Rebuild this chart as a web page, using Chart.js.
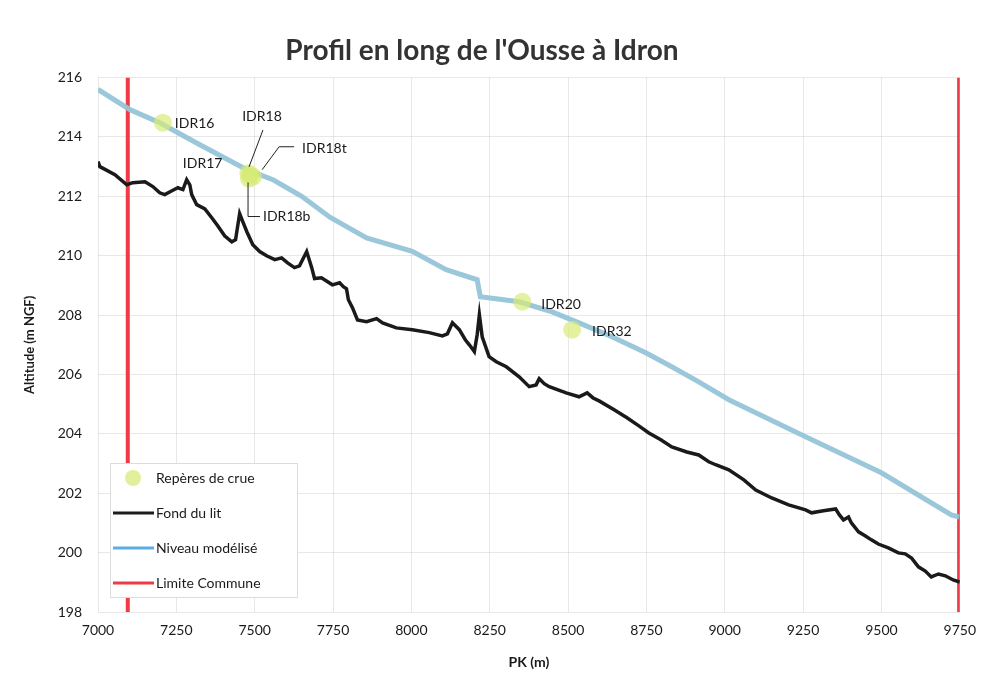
<!DOCTYPE html>
<html>
<head>
<meta charset="utf-8">
<title>Profil en long de l'Ousse à Idron</title>
<script src="https://cdn.jsdelivr.net/npm/chart.js@4.4.1/dist/chart.umd.min.js"></script>
<style>
  html, body { margin: 0; padding: 0; background: #fff; }
  #wrap { width: 986px; height: 677px; }
</style>
</head>
<body>
<div id="wrap"><canvas id="profil" width="986" height="677"></canvas></div>
<script>
// PK (m) / altitude (m NGF)
const fondPK = [7000, 7006, 7054, 7092, 7111, 7150, 7175, 7197, 7213, 7236, 7255, 7271, 7283, 7293, 7299,
  7315, 7341, 7363, 7382, 7404, 7427, 7439, 7452, 7462, 7475, 7494, 7516, 7538, 7564, 7586, 7605, 7627,
  7643, 7666, 7682, 7691, 7713, 7748, 7771, 7783, 7793, 7799, 7812, 7828, 7857, 7889, 7908, 7952, 8003,
  8057, 8099, 8115, 8131, 8153, 8172, 8185, 8201, 8210, 8217, 8226, 8248, 8271, 8303, 8344, 8376, 8398,
  8408, 8424, 8440, 8494, 8535, 8561, 8580, 8599, 8647, 8688, 8726, 8758, 8796, 8831, 8879, 8917, 8949,
  8971, 9013, 9061, 9099, 9150, 9204, 9258, 9277, 9315, 9354, 9366, 9379, 9395, 9404, 9427, 9449, 9468,
  9490, 9522, 9554, 9576, 9596, 9618, 9640, 9659, 9682, 9704, 9729, 9750];
const fondAlt = [213.17, 213.0, 212.73, 212.39, 212.46, 212.49, 212.33, 212.12, 212.06, 212.19, 212.29,
  212.23, 212.56, 212.39, 212.06, 211.72, 211.58, 211.28, 211.01, 210.67, 210.47, 210.54, 211.42, 211.15,
  210.81, 210.37, 210.14, 210.0, 209.87, 209.93, 209.76, 209.6, 209.66, 210.14, 209.6, 209.23, 209.26,
  209.02, 209.09, 208.96, 208.89, 208.52, 208.25, 207.84, 207.78, 207.88, 207.74, 207.57, 207.51, 207.41,
  207.3, 207.37, 207.74, 207.51, 207.17, 207.0, 206.77, 207.34, 208.01, 207.27, 206.6, 206.43, 206.26,
  205.92, 205.59, 205.65, 205.86, 205.69, 205.59, 205.38, 205.25, 205.38, 205.21, 205.11, 204.81, 204.54,
  204.27, 204.03, 203.8, 203.56, 203.39, 203.29, 203.06, 202.96, 202.79, 202.45, 202.11, 201.84, 201.61,
  201.44, 201.34, 201.41, 201.47, 201.27, 201.1, 201.2, 201.0, 200.7, 200.56, 200.43, 200.29, 200.16,
  199.99, 199.96, 199.82, 199.52, 199.38, 199.18, 199.28, 199.22, 199.08, 199.01];

const niveauPK = [7000, 7102, 7197, 7325, 7475, 7560, 7650, 7740, 7857, 8003, 8111, 8210, 8220, 8344, 8449,
  8535, 8640, 8748, 8831, 8917, 9013, 9258, 9500, 9723, 9748];
const niveauAlt = [215.6, 214.92, 214.48, 213.74, 212.9, 212.55, 212.0, 211.3, 210.6, 210.15, 209.53, 209.19,
  208.62, 208.45, 208.11, 207.74, 207.27, 206.73, 206.26, 205.75, 205.15, 203.9, 202.69, 201.27, 201.2];

const reperesNoms = ["IDR16", "IDR17", "IDR18", "IDR18t", "IDR18b", "IDR20", "IDR32"];
const reperesPK = [7207, 7480, 7485, 7495, 7482, 8354, 8513];
const reperesAlt = [214.48, 212.78, 212.72, 212.66, 212.6, 208.45, 207.51];

const limitePK = [7095, 9748];
const limiteAlt = [198, 216];

const xTicks = [7000, 7250, 7500, 7750, 8000, 8250, 8500, 8750, 9000, 9250, 9500, 9750];
const yTicks = [198, 200, 202, 204, 206, 208, 210, 212, 214, 216];

const FONT = "Lato, 'Open Sans', sans-serif";

// label offsets (px) from each repère, plus leader lines
const labelPos = {
  IDR16: { dx: 12, dy: 1, align: "left" },
  IDR17: { dx: -26, dy: -10, align: "right" },
  IDR18: { dx: 12, dy: -58, align: "center", leader: [[13, -45], [-1, -8]] },
  IDR18t: { dx: 49, dy: -28, align: "left", leader: [[41, -30], [26, -30], [9, -7]] },
  IDR18b: { dx: 14, dy: 38, align: "left", leader: [[-1, 4], [-1, 38], [11, 38]] },
  IDR20: { dx: 19, dy: 3, align: "left" },
  IDR32: { dx: 20, dy: 2, align: "left" }
};

function pairs(xs, ys) {
  return xs.map((x, i) => ({ x: x, y: ys[i] }));
}

const limiteData = [];
limitePK.forEach((pk, i) => {
  if (i > 0) limiteData.push({ x: null, y: null });
  limiteAlt.forEach(a => limiteData.push({ x: pk, y: a }));
});

const repereLabels = {
  id: "repereLabels",
  afterDatasetsDraw(chart) {
    const ctx = chart.ctx;
    const meta = chart.getDatasetMeta(0);
    ctx.save();
    ctx.font = "14px " + FONT;
    ctx.fillStyle = "#1a1a1a";
    ctx.strokeStyle = "#222";
    ctx.lineWidth = 1;
    ctx.textBaseline = "middle";
    meta.data.forEach((pt, i) => {
      const p = labelPos[reperesNoms[i]];
      if (p.leader) {
        ctx.beginPath();
        p.leader.forEach((l, j) => {
          if (j === 0) ctx.moveTo(pt.x + l[0], pt.y + l[1]);
          else ctx.lineTo(pt.x + l[0], pt.y + l[1]);
        });
        ctx.stroke();
      }
      ctx.textAlign = p.align;
      ctx.fillText(reperesNoms[i], pt.x + p.dx, pt.y + p.dy);
    });
    ctx.restore();
  }
};

const boxLegend = {
  id: "boxLegend",
  afterDraw(chart) {
    const ctx = chart.ctx;
    const a = chart.chartArea;
    const left = a.left + 12, top = a.bottom - 149;
    const items = [
      { label: "Repères de crue", kind: "point", color: "rgba(215,235,120,0.75)" },
      { label: "Fond du lit", kind: "line", color: "#1c1c1c" },
      { label: "Niveau modélisé", kind: "line", color: "#5aaee8" },
      { label: "Limite Commune", kind: "line", color: "#ee3b45" }
    ];
    ctx.save();
    ctx.fillStyle = "#fff";
    ctx.fillRect(left, top, 187, 134);
    ctx.strokeStyle = "#dcdcdc";
    ctx.lineWidth = 1;
    ctx.strokeRect(left + 0.5, top + 0.5, 187, 134);
    ctx.font = "14px " + FONT;
    ctx.textBaseline = "middle";
    ctx.textAlign = "left";
    items.forEach((it, i) => {
      const y = top + 15 + i * 35;
      if (it.kind === "point") {
        ctx.fillStyle = it.color;
        ctx.beginPath();
        ctx.arc(left + 23, y, 8, 0, Math.PI * 2);
        ctx.fill();
      } else {
        ctx.strokeStyle = it.color;
        ctx.lineWidth = 3;
        ctx.beginPath();
        ctx.moveTo(left + 3, y);
        ctx.lineTo(left + 44, y);
        ctx.stroke();
      }
      ctx.fillStyle = "#1a1a1a";
      ctx.fillText(it.label, left + 46, y);
    });
    ctx.restore();
  }
};

new Chart(document.getElementById("profil"), {
  type: "line",
  data: {
    datasets: [
      {
        label: "Repères de crue",
        data: pairs(reperesPK, reperesAlt),
        showLine: false,
        pointRadius: 9,
        pointBorderWidth: 0,
        pointBackgroundColor: "rgba(215,235,120,0.7)",
        pointBorderColor: "rgba(215,235,120,0)"
      },
      {
        label: "Fond du lit",
        data: pairs(fondPK, fondAlt),
        borderColor: "#1a1a1a",
        borderWidth: 3.5,
        pointRadius: 0,
        tension: 0
      },
      {
        label: "Niveau modélisé",
        data: pairs(niveauPK, niveauAlt),
        borderColor: "rgba(150,196,216,0.95)",
        borderWidth: 5,
        pointRadius: 0,
        tension: 0
      },
      {
        label: "Limite Commune",
        data: limiteData,
        borderColor: "#ee3b45",
        borderWidth: 4,
        pointRadius: 0,
        spanGaps: false
      }
    ]
  },
  options: {
    responsive: false,
    devicePixelRatio: 1,
    animation: false,
    layout: { padding: { left: 0, right: 22, top: 0, bottom: 0 } },
    plugins: {
      legend: { display: false },
      tooltip: { enabled: false },
      title: {
        display: true,
        text: "Profil en long de l'Ousse à Idron",
        color: "#333",
        font: { family: FONT, size: 28, weight: "bold", lineHeight: 1.2 },
        padding: { top: 34, bottom: 10 }
      }
    },
    scales: {
      x: {
        type: "linear",
        min: 7000,
        max: 9750,
        afterBuildTicks: s => { s.ticks = xTicks.map(v => ({ value: v })); },
        afterFit: s => { s.height = 65; },
        grid: { color: "rgba(0,0,0,0.09)", drawTicks: false },
        border: { display: false },
        ticks: {
          color: "#1a1a1a",
          padding: 10,
          maxRotation: 0,
          font: { family: FONT, size: 14 },
          callback: v => String(v)
        },
        title: {
          display: true,
          text: "PK (m)",
          color: "#1a1a1a",
          font: { family: FONT, size: 14, weight: "bold" },
          padding: { top: 0, bottom: 6 }
        }
      },
      y: {
        min: 198,
        max: 216,
        afterBuildTicks: s => { s.ticks = yTicks.map(v => ({ value: v })); },
        afterFit: s => { s.width = 98; },
        grid: { color: "rgba(0,0,0,0.09)", drawTicks: false },
        border: { display: false },
        ticks: { color: "#1a1a1a", padding: 16, font: { family: FONT, size: 14 } },
        title: {
          display: true,
          text: "Altitude (m NGF)",
          color: "#1a1a1a",
          font: { family: FONT, size: 13, weight: "bold" },
          padding: { top: 22, bottom: 0 }
        }
      }
    }
  },
  plugins: [repereLabels, boxLegend]
});
</script>
</body>
</html>
